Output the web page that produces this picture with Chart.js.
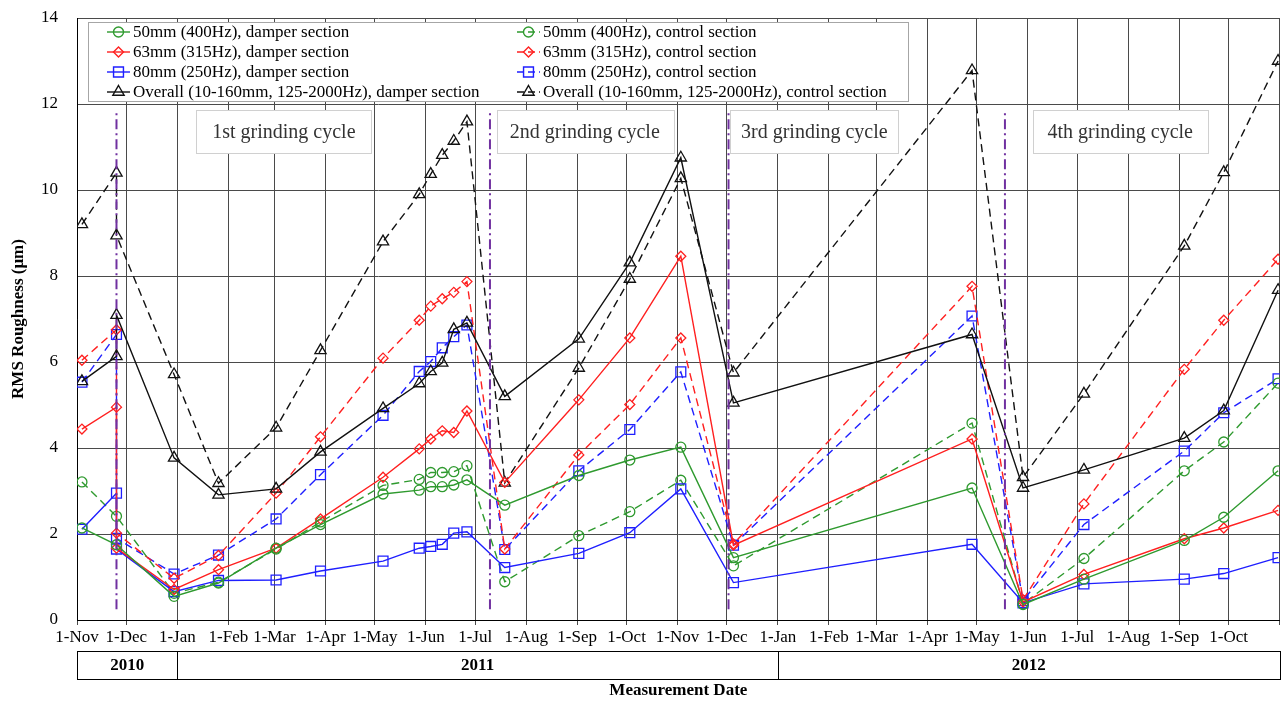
<!DOCTYPE html>
<html>
<head>
<meta charset="utf-8">
<script src="https://cdn.jsdelivr.net/npm/chart.js@4.4.0/dist/chart.umd.min.js"></script>
<style>
  html, body { margin: 0; padding: 0; background: #fff; }
</style>
</head>
<body>
<canvas id="myChart" width="1288" height="701"></canvas>
<script>
const FONT = "'Liberation Serif', 'Times New Roman', serif";

// ---- data ----
const startDate = "2010-11-01";
const endDate = "2012-11-01";

// measurement dates (25 Nov 2010 appears twice: before / after grinding)
const measureDates = [
  "2010-11-04", "2010-11-25", "2010-11-25", "2010-12-30", "2011-01-26", "2011-03-02",
  "2011-03-29", "2011-05-06", "2011-05-28", "2011-06-04", "2011-06-11", "2011-06-18",
  "2011-06-26", "2011-07-19", "2011-09-02", "2011-10-03", "2011-11-03", "2011-12-05",
  "2012-04-28", "2012-05-29", "2012-07-05", "2012-09-04", "2012-09-28", "2012-10-31"
];

const damper50 = [2.14, null, 1.75, 0.55, 0.86, 1.67, 2.22, 2.93, 3.02, 3.10, 3.10, 3.14,
  3.26, 2.67, 3.36, 3.72, 4.02, 1.45, 3.07, 0.36, 0.95, 1.85, 2.39, 3.47];
const control50 = [3.21, 2.41, null, 0.62, 0.88, 1.65, 2.28, 3.13, 3.27, 3.43, 3.43, 3.45,
  3.59, 0.89, 1.96, 2.52, 3.25, 1.26, 4.58, 0.38, 1.43, 3.47, 4.14, 5.51];
const damper63 = [4.44, 4.95, 1.67, 0.71, 1.17, 1.67, 2.35, 3.32, 3.98, 4.21, 4.40, 4.36,
  4.86, 3.20, 5.12, 6.56, 8.46, 1.74, 4.21, 0.42, 1.06, 1.89, 2.14, 2.55];
const control63 = [6.04, 6.75, 2.02, 0.97, 1.50, 2.95, 4.26, 6.09, 6.97, 7.30, 7.47, 7.62,
  7.87, 1.65, 3.84, 5.01, 6.56, 1.77, 7.76, 0.47, 2.70, 5.83, 6.97, 8.39];
const damper80 = [2.11, 2.95, 1.65, 0.66, 0.92, 0.93, 1.14, 1.37, 1.67, 1.71, 1.76, 2.02,
  2.05, 1.22, 1.55, 2.03, 3.05, 0.87, 1.76, 0.40, 0.84, 0.95, 1.08, 1.45];
const control80 = [5.53, 6.64, 1.90, 1.07, 1.51, 2.35, 3.38, 4.76, 5.78, 6.01, 6.33, 6.59,
  6.86, 1.64, 3.47, 4.43, 5.77, 1.74, 7.07, 0.45, 2.22, 3.93, 4.82, 5.61];
const overallDamper = [5.55, 6.13, 7.09, 3.77, 2.91, 3.05, 3.91, 4.92, 5.50, 5.78, 5.98, 6.76,
  6.91, 5.20, 6.54, 8.31, 10.75, 5.05, 6.64, 3.07, 3.49, 4.23, 4.87, 7.67];
const overallControl = [9.20, 10.40, 8.94, 5.71, 3.18, 4.47, 6.27, 8.80, 9.90, 10.37, 10.81, 11.14,
  11.59, 3.19, 5.86, 7.93, 10.27, 5.75, 12.78, 3.32, 5.26, 8.70, 10.41, 13.00];

const seriesLabels = [
  "50mm (400Hz), damper section",
  "63mm (315Hz), damper section",
  "80mm (250Hz), damper section",
  "Overall (10-160mm, 125-2000Hz), damper section",
  "50mm (400Hz), control section",
  "63mm (315Hz), control section",
  "80mm (250Hz), control section",
  "Overall (10-160mm, 125-2000Hz), control section"
];

const grindDates = ["2010-11-25", "2011-07-10", "2011-12-02", "2012-05-18"];
const cycleLabels = ["1st grinding cycle", "2nd grinding cycle", "3rd grinding cycle", "4th grinding cycle"];

const monthNames = ["Jan", "Feb", "Mar", "Apr", "May", "Jun", "Jul", "Aug", "Sep", "Oct", "Nov", "Dec"];
const yearLabels = ["2010", "2011", "2012"];
const yearStarts = ["2010-11-01", "2011-01-01", "2012-01-01"];

// ---- helpers ----
const DAY = 86400000;
function dayOf(s) {
  return (Date.parse(s) - Date.parse(startDate)) / DAY;
}

// month-start ticks from Nov 2010 to Nov 2012
let tickDays = [];
let tickText = {};
for (let y = 2010, m = 10; y < 2012 || (y === 2012 && m <= 10); ) {
  let s = y + "-" + String(m + 1).padStart(2, "0") + "-01";
  let d = dayOf(s);
  tickDays.push(d);
  tickText[d] = s === endDate ? "" : "1-" + monthNames[m];
  m++;
  if (m > 11) { m = 0; y++; }
}

const styles = [
  { color: "#2f9a2f", point: "circle", r: 5 },
  { color: "#ff2020", point: "rectRot", r: 5 },
  { color: "#1f1fff", point: "rect", r: 7 },
  { color: "#111111", point: "triangle", r: 6.5 }
];
const valueSets = [damper50, damper63, damper80, overallDamper, control50, control63, control80, overallControl];

let datasets = valueSets.map((vals, i) => {
  let st = styles[i % 4];
  let pts = [];
  vals.forEach((v, j) => {
    if (v !== null) pts.push({ x: dayOf(measureDates[j]), y: v });
  });
  return {
    label: seriesLabels[i],
    data: pts,
    borderColor: st.color,
    backgroundColor: "rgba(0,0,0,0)",
    borderWidth: 1.4,
    borderDash: i < 4 ? [] : [8, 5],
    pointStyle: st.point,
    pointRadius: st.r,
    pointBorderWidth: 1.3,
    pointBorderColor: st.color,
    pointBackgroundColor: "rgba(0,0,0,0)",
    tension: 0,
    order: 1
  };
});

grindDates.forEach((g) => {
  datasets.push({
    label: "",
    data: [{ x: dayOf(g), y: 0.25 }, { x: dayOf(g), y: 11.88 }],
    borderColor: "#7030a0",
    borderWidth: 2,
    borderDash: [10, 4, 2, 4],
    pointRadius: 0,
    order: 0,
    isMarker: true
  });
});

// ---- decorations ----
// grinding-cycle label boxes, in days from startDate
const cycleBoxes = [
  { from: 72.5, to: 179 },
  { from: 255, to: 362.3 },
  { from: 397, to: 499.3 },
  { from: 580.8, to: 687.3 }
];

const overlay = {
  id: "overlay",
  beforeDatasetsDraw(chart) {
    const { ctx, scales: { x, y } } = chart;
    ctx.save();
    ctx.font = "20px " + FONT;
    ctx.textAlign = "center";
    ctx.textBaseline = "middle";
    const top = y.getPixelForValue(11.86);
    const bot = y.getPixelForValue(10.85);
    cycleBoxes.forEach((b, i) => {
      const x0 = x.getPixelForValue(b.from);
      const x1 = x.getPixelForValue(b.to);
      ctx.fillStyle = "#fff";
      ctx.fillRect(x0, top, x1 - x0, bot - top);
      ctx.strokeStyle = "#d0d0d0";
      ctx.lineWidth = 1;
      ctx.strokeRect(Math.round(x0) + 0.5, Math.round(top) + 0.5, Math.round(x1 - x0), Math.round(bot - top));
      ctx.fillStyle = "#333";
      ctx.fillText(cycleLabels[i], (x0 + x1) / 2, (top + bot) / 2 + 1);
    });
    ctx.restore();
  },
  afterDraw(chart) {
    const { ctx, scales: { x } } = chart;
    ctx.save();

    // legend
    ctx.fillStyle = "#fff";
    ctx.fillRect(88, 22, 820, 79);
    ctx.strokeStyle = "#a6a6a6";
    ctx.lineWidth = 1;
    ctx.strokeRect(88.5, 22.5, 820, 79);
    ctx.font = "17px " + FONT;
    ctx.textBaseline = "middle";
    ctx.textAlign = "left";
    chart.data.datasets.forEach((ds, i) => {
      if (ds.isMarker) return;
      const col = i < 4 ? 0 : 1;
      const row = i % 4;
      const lx = col === 0 ? 107 : 517;
      const ly = 32 + row * 20;
      ctx.strokeStyle = ds.borderColor;
      ctx.lineWidth = 1.4;
      ctx.setLineDash(ds.borderDash.length ? [7, 4] : []);
      ctx.beginPath();
      ctx.moveTo(lx, ly);
      ctx.lineTo(lx + 23, ly);
      ctx.stroke();
      ctx.setLineDash([]);
      ctx.fillStyle = "rgba(0,0,0,0)";
      Chart.helpers.drawPoint(ctx, {
        pointStyle: ds.pointStyle,
        radius: ds.pointRadius,
        borderWidth: 1.3
      }, lx + 11.5, ly);
      ctx.fillStyle = "#000";
      ctx.fillText(ds.label, lx + 26, ly + 1);
    });

    // year row under the axis
    const top = 651, bot = 679;
    const xs = yearStarts.map((s) => x.getPixelForValue(dayOf(s)));
    xs.push(x.getPixelForValue(dayOf(endDate)));
    ctx.strokeStyle = "#000";
    ctx.lineWidth = 1;
    ctx.strokeRect(Math.round(xs[0]) + 0.5, top + 0.5, Math.round(xs[3] - xs[0]), bot - top);
    ctx.beginPath();
    [xs[1], xs[2]].forEach((p) => {
      ctx.moveTo(Math.round(p) + 0.5, top);
      ctx.lineTo(Math.round(p) + 0.5, bot);
    });
    ctx.stroke();
    ctx.font = "bold 17px " + FONT;
    ctx.textAlign = "center";
    ctx.fillStyle = "#000";
    yearLabels.forEach((t, i) => {
      ctx.fillText(t, (xs[i] + xs[i + 1]) / 2, (top + bot) / 2 + 1);
    });
    ctx.restore();
  }
};

let ctx = document.getElementById("myChart");

let myChart = new Chart(ctx, {
  type: "line",
  data: { datasets: datasets },
  options: {
    responsive: false,
    animation: false,
    layout: { padding: { top: 18, right: 6, left: 0, bottom: 0 } },
    plugins: {
      legend: { display: false },
      tooltip: { enabled: false }
    },
    scales: {
      x: {
        type: "linear",
        min: 0,
        max: dayOf(endDate),
        afterBuildTicks: (s) => { s.ticks = tickDays.map((v) => ({ value: v })); },
        afterFit: (s) => { s.height = 81; },
        ticks: {
          autoSkip: false,
          maxRotation: 0,
          padding: 2,
          color: "#000",
          font: { family: FONT, size: 17 },
          callback: (v) => tickText[v] ?? ""
        },
        grid: { color: "#4a4a4a", lineWidth: 1, tickLength: 5 },
        border: { color: "#000" },
        title: {
          display: true,
          text: "Measurement Date",
          color: "#000",
          font: { family: FONT, size: 17, weight: "bold" },
          padding: { top: 0, bottom: 0 }
        }
      },
      y: {
        min: 0,
        max: 14,
        afterFit: (s) => { s.width = 77; },
        ticks: {
          stepSize: 2,
          padding: 2,
          color: "#000",
          font: { family: FONT, size: 17 }
        },
        // invisible tick marks give the label gap without padding the top
        grid: { color: "#4a4a4a", lineWidth: 1, drawTicks: true, tickLength: 17, tickColor: "rgba(0,0,0,0)" },
        border: { color: "#000" },
        title: {
          display: true,
          text: "RMS Roughness (μm)",
          color: "#000",
          font: { family: FONT, size: 17, weight: "bold" },
          padding: { top: 8, bottom: 0 }
        }
      }
    }
  },
  plugins: [overlay]
});
</script>
</body>
</html>
